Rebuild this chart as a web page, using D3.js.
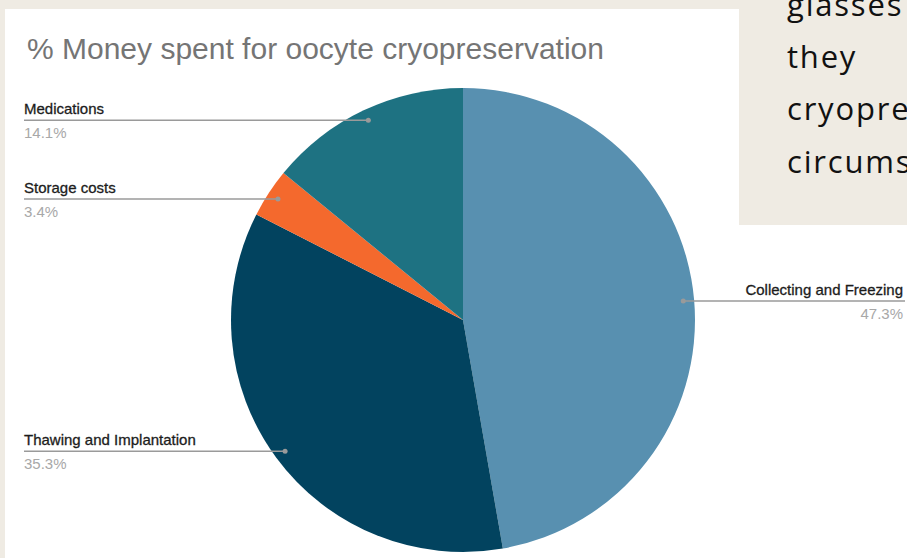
<!DOCTYPE html>
<html>
<head>
<meta charset="utf-8">
<script src="https://cdn.jsdelivr.net/npm/d3@7"></script>
<style>
  body { margin: 0; background: #efebe3; }
  svg { display: block; }
</style>
</head>
<body>
<div id="chart"></div>
<script>
// slice values (clockwise from 12 o'clock)
var categories = ["Collecting and Freezing", "Thawing and Implantation", "Storage costs", "Medications"];
var values = [47.3, 35.3, 3.4, 14.1];
var colors = ["#5890b0", "#02435f", "#f4692d", "#1e7282"];
var sideText = ["glasses", "they", "cryopre", "circums"];

var width = 907, height = 558;
var cx = 463, cy = 320, radius = 232;

var svg = d3.select("#chart")
    .append("svg")
    .attr("width", width)
    .attr("height", height);

svg.append("rect")
    .attr("x", 0).attr("y", 0)
    .attr("width", width).attr("height", height)
    .attr("fill", "#efebe3");

// white chart card
svg.append("rect")
    .attr("x", 5).attr("y", 9)
    .attr("width", width - 5).attr("height", height - 9)
    .attr("fill", "#ffffff");

// the text box that overlaps from the right
svg.append("rect")
    .attr("x", 739).attr("y", 0)
    .attr("width", width - 739).attr("height", 225)
    .attr("fill", "#efebe3");

svg.selectAll(".side")
    .data(sideText)
    .enter()
    .append("text")
    .attr("class", "side")
    .attr("x", 787)
    .attr("y", (d, i) => 16 + i * 52.2)
    .attr("font-family", "'Open Sans', sans-serif")
    .attr("font-size", 31)
    .attr("letter-spacing", 1.8)
    .attr("fill", "#111111")
    .text(d => d);

svg.append("text")
    .attr("x", 27)
    .attr("y", 59)
    .attr("font-family", "'Liberation Sans', Arial, sans-serif")
    .attr("font-size", 30)
    .attr("fill", "#757575")
    .text("% Money spent for oocyte cryopreservation");

var data = categories.map((c, i) => ({ name: c, value: values[i], color: colors[i] }));

var pie = d3.pie().sort(null).value(d => d.value);
var arc = d3.arc().innerRadius(0).outerRadius(radius);

var g = svg.append("g")
    .attr("transform", "translate(" + cx + "," + cy + ")");

var arcs = pie(data);

g.selectAll("path.slice")
    .data(arcs)
    .enter()
    .append("path")
    .attr("class", "slice")
    .attr("d", arc)
    .attr("fill", d => d.data.color);

// label leader lines: dot inside the slice, horizontal line out to the edge
function anchor(d) {
    var a = (d.startAngle + d.endAngle) / 2;
    var r = radius * 0.953;
    return [Math.sin(a) * r, -Math.cos(a) * r];
}

var labels = g.selectAll("g.label")
    .data(arcs)
    .enter()
    .append("g")
    .attr("class", "label");

labels.append("line")
    .attr("x1", d => anchor(d)[0])
    .attr("y1", d => anchor(d)[1])
    .attr("x2", d => anchor(d)[0] > 0 ? 905 - cx : 24 - cx)
    .attr("y2", d => anchor(d)[1])
    .attr("stroke", "#9a9a9a")
    .attr("stroke-width", 1.5);

labels.append("circle")
    .attr("cx", d => anchor(d)[0])
    .attr("cy", d => anchor(d)[1])
    .attr("r", 2.5)
    .attr("fill", "#9a9a9a");

labels.append("text")
    .attr("x", d => anchor(d)[0] > 0 ? 903 - cx : 24 - cx)
    .attr("y", d => anchor(d)[1] - 6)
    .attr("text-anchor", d => anchor(d)[0] > 0 ? "end" : "start")
    .attr("font-family", "'Liberation Sans', Arial, sans-serif")
    .attr("font-size", 15)
    .attr("fill", "#1c1c1c")
    .attr("stroke", "#1c1c1c")
    .attr("stroke-width", 0.3)
    .text(d => d.data.name);

labels.append("text")
    .attr("x", d => anchor(d)[0] > 0 ? 903 - cx : 24 - cx)
    .attr("y", d => anchor(d)[1] + 18)
    .attr("text-anchor", d => anchor(d)[0] > 0 ? "end" : "start")
    .attr("font-family", "'Liberation Sans', Arial, sans-serif")
    .attr("font-size", 15)
    .attr("fill", "#a8a8a8")
    .text(d => d.data.value.toFixed(1) + "%");
</script>
</body>
</html>
